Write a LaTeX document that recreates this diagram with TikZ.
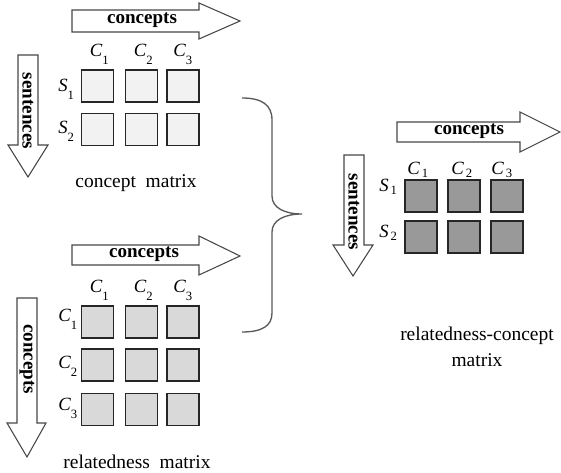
\documentclass[tikz,border=0pt]{standalone}
\usepackage{fontspec}
\setmainfont{Liberation Serif}
\newcommand{\mlbl}[4]{\textit{#1}\kern#4\raisebox{-#3}{\fontsize{9.5}{10}\selectfont #2}}
\begin{document}
\begin{tikzpicture}[x=0.75pt,y=-0.75pt,
  arr/.style={draw=black!72, line width=0.8pt, fill=white, line join=miter},
  plaintext/.style={font=\fontsize{14.6}{16}\selectfont, inner sep=0pt, align=center},
  boldtext/.style={font=\fontsize{14.3}{16}\selectfont\bfseries, inner sep=0pt},
  cell/.style={rectangle, draw=black!85, line width=1pt, minimum size=24pt, inner sep=0pt},
  cellA/.style={cell, fill=black!5},
  cellB/.style={cell, fill=black!15},
  cellC/.style={cell, fill=black!40},
  mlab/.style={font=\fontsize{14}{16}\selectfont, inner sep=0pt},
  bracestyle/.style={draw=black!65, line width=1pt},
]
\useasboundingbox (0,0) rectangle (561,473);

% ---------- top-left: concept matrix ----------
\draw[arr] (72,10) -- (199,10) -- (199,3) -- (240,21) -- (199,39) -- (199,32) -- (72,32) -- cycle;
\node[boldtext] (tA) at (142,20) {concepts};
\draw[arr] (18,55) -- (38,55) -- (38,145) -- (48,145) -- (28,177) -- (8,145) -- (18,145) -- cycle;
\node[boldtext, rotate=-90] (sA) at (28,111) {sentences};

\node[cellA] (a11) at (97.5,86) {};
\node[cellA] (a12) at (141.5,86) {};
\node[cellA] (a13) at (183,86) {};
\node[cellA] (a21) at (97.5,129.5) {};
\node[cellA] (a22) at (141.5,129.5) {};
\node[cellA] (a23) at (183,129.5) {};

\node[mlab, anchor=base west] (ac1) at (89.5,57) {\mlbl{C}{1}{0.9ex}{0pt}};
\node[mlab, anchor=base west] (ac2) at (133.5,57) {\mlbl{C}{2}{0.9ex}{0pt}};
\node[mlab, anchor=base west] (ac3) at (173,57) {\mlbl{C}{3}{0.9ex}{0pt}};
\node[mlab, anchor=base west] (as1) at (58,92) {\mlbl{S}{1}{0.9ex}{0pt}};
\node[mlab, anchor=base west] (as2) at (58,134) {\mlbl{S}{2}{0.9ex}{0pt}};

\node[plaintext] (capA) at (136,183) {concept~ matrix};

% ---------- bottom-left: relatedness matrix ----------
\draw[arr] (72,245) -- (199,245) -- (199,236) -- (240,256) -- (199,275) -- (199,265) -- (72,265) -- cycle;
\node[boldtext] (tB) at (144,254) {concepts};
\draw[arr] (17,298) -- (37,298) -- (37,423) -- (46,423) -- (27,457) -- (7,423) -- (17,423) -- cycle;
\node[boldtext, rotate=-90] (sB) at (27,359) {concepts};

\node[cellB] (b11) at (97.5,322) {};
\node[cellB] (b12) at (141.5,322) {};
\node[cellB] (b13) at (183,322) {};
\node[cellB] (b21) at (97.5,365) {};
\node[cellB] (b22) at (141.5,365) {};
\node[cellB] (b23) at (183,365) {};
\node[cellB] (b31) at (97.5,409.5) {};
\node[cellB] (b32) at (141.5,409.5) {};
\node[cellB] (b33) at (183,409.5) {};

\node[mlab, anchor=base west] (bc1) at (89.5,293) {\mlbl{C}{1}{0.9ex}{0pt}};
\node[mlab, anchor=base west] (bc2) at (133.5,293) {\mlbl{C}{2}{0.9ex}{0pt}};
\node[mlab, anchor=base west] (bc3) at (173,293) {\mlbl{C}{3}{0.9ex}{0pt}};
\node[mlab, anchor=base west] (br1) at (58,322) {\mlbl{C}{1}{0.9ex}{0pt}};
\node[mlab, anchor=base west] (br2) at (58,369) {\mlbl{C}{2}{0.9ex}{0pt}};
\node[mlab, anchor=base west] (br3) at (58,411) {\mlbl{C}{3}{0.9ex}{0pt}};

\node[plaintext] (capB) at (137,462) {relatedness~ matrix};

% ---------- brace ----------
\draw[bracestyle] (242,98) .. controls (262,98) and (272,105) .. (272,120)
  -- (272,196) .. controls (272,208) and (285,214) .. (302,214)
  .. controls (285,214) and (272,220) .. (272,232)
  -- (272,313) .. controls (272,326) and (262,332) .. (242,332);

% ---------- right: relatedness-concept matrix ----------
\draw[arr] (397,122) -- (520,122) -- (520,112) -- (560,132) -- (520,152) -- (520,142) -- (397,142) -- cycle;
\node[boldtext] (tC) at (469,131) {concepts};
\draw[arr] (344,155) -- (364,155) -- (364,245) -- (373,245) -- (353,276) -- (333,245) -- (344,245) -- cycle;
\node[boldtext, rotate=-90] (sC) at (354,212) {sentences};

\node[cellC] (c11) at (421,196) {};
\node[cellC] (c12) at (464,196) {};
\node[cellC] (c13) at (507,196) {};
\node[cellC] (c21) at (421,237) {};
\node[cellC] (c22) at (464,237) {};
\node[cellC] (c23) at (507,237) {};

\node[mlab, anchor=base west] (cc1) at (407,175) {\mlbl{C}{1}{0.25ex}{1.5pt}};
\node[mlab, anchor=base west] (cc2) at (451,175) {\mlbl{C}{2}{0.25ex}{1.5pt}};
\node[mlab, anchor=base west] (cc3) at (491,175) {\mlbl{C}{3}{0.25ex}{1.5pt}};
\node[mlab, anchor=base west] (cs1) at (379,192) {\mlbl{S}{1}{0.25ex}{1.5pt}};
\node[mlab, anchor=base west] (cs2) at (379,238) {\mlbl{S}{2}{0.25ex}{1.5pt}};

\node[plaintext] (capC) at (477,347) {relatedness-concept\\[3pt]matrix};
\end{tikzpicture}
\end{document}
